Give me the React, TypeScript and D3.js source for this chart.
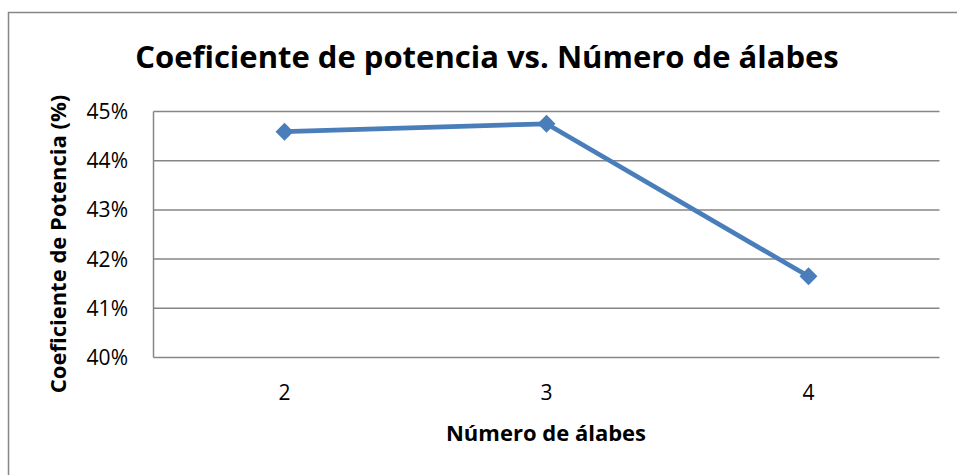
import React from "react";
import * as d3 from "d3";

// Number of blades vs. power coefficient (%)
const bladeCounts = ["2", "3", "4"];
const powerCoefficient = [44.59, 44.75, 41.65];
const yTicks = [40, 41, 42, 43, 44, 45];

const W = 957;
const H = 475;
const margin = { left: 153.5, right: 17.5, top: 111.5, bottom: 117.5 };

export default function App() {
  const x = d3
    .scaleBand<string>()
    .domain(bladeCounts)
    .range([margin.left, W - margin.right])
    .paddingInner(0)
    .paddingOuter(0);
  const y = d3
    .scaleLinear()
    .domain([40, 45])
    .range([H - margin.bottom, margin.top]);

  const cx = (c: string) => (x(c) ?? 0) + x.bandwidth() / 2;
  const line = d3
    .line<number>()
    .x((_, i) => cx(bladeCounts[i]))
    .y((d) => y(d));

  const font = "'Open Sans', Lato, sans-serif";
  const diamond = d3.symbol().type(d3.symbolDiamond2).size(205)();

  return (
    <svg
      width={W}
      height={H}
      style={{ position: "absolute", left: 0, top: 0, background: "#fff" }}
    >
      {/* chart frame */}
      <rect x={8.5} y={12.5} width={W + 20} height={H + 20} fill="#fff" stroke="#868686" strokeWidth={1.5} />

      <text
        x={487}
        y={68}
        textAnchor="middle"
        fontFamily={font}
        fontWeight="bold"
        fontSize={31}
        fill="#000"
      >
        Coeficiente de potencia vs. Número de álabes
      </text>

      {/* gridlines */}
      {yTicks.map((t) => (
        <line
          key={t}
          x1={margin.left}
          x2={W - margin.right}
          y1={y(t)}
          y2={y(t)}
          stroke="#868686"
          strokeWidth={1.5}
        />
      ))}
      {/* value axis line */}
      <line x1={margin.left} x2={margin.left} y1={margin.top} y2={H - margin.bottom} stroke="#868686" strokeWidth={1.5} />

      {yTicks.map((t) => (
        <text
          key={"l" + t}
          x={128}
          y={y(t) + 7.5}
          textAnchor="end"
          fontFamily={font}
          fontSize={21}
          fill="#000"
        >
          {t}%
        </text>
      ))}

      {bladeCounts.map((c) => (
        <text
          key={"x" + c}
          x={cx(c)}
          y={400}
          textAnchor="middle"
          fontFamily={font}
          fontSize={21}
          fill="#000"
        >
          {c}
        </text>
      ))}

      <text
        x={546}
        y={441}
        textAnchor="middle"
        fontFamily={font}
        fontWeight="bold"
        fontSize={22}
        fill="#000"
      >
        Número de álabes
      </text>

      <text
        transform={`translate(66, ${244}) rotate(-90)`}
        textAnchor="middle"
        fontFamily={font}
        fontWeight="bold"
        fontSize={22}
        fill="#000"
      >
        Coeficiente de Potencia (%)
      </text>

      <path d={line(powerCoefficient) ?? ""} fill="none" stroke="#4a7ebb" strokeWidth={4.7} strokeLinejoin="round" />
      {powerCoefficient.map((v, i) => (
        <path
          key={"m" + i}
          d={diamond ?? ""}
          transform={`translate(${cx(bladeCounts[i])}, ${y(v)})`}
          fill="#4a7ebb"
        />
      ))}
    </svg>
  );
}
